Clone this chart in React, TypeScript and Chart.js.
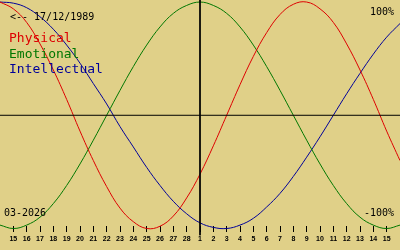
import React, { useEffect, useRef } from "react";
import { Chart, registerables } from "chart.js";

Chart.register(...registerables);

// Day labels from 14 Feb to 16 Mar 2026 (first and last are off-screen edges)
const dayLabels = [
  "14", "15", "16", "17", "18", "19", "20", "21", "22", "23", "24", "25", "26", "27", "28",
  "1", "2", "3", "4", "5", "6", "7", "8", "9", "10", "11", "12", "13", "14", "15", "16",
];

// Biorhythm values (-1 .. 1)
const physical = [
  1.0, 0.94, 0.82, 0.63, 0.4, 0.14, -0.14, -0.4, -0.63, -0.82, -0.94, -1.0, -0.98, -0.89, -0.73,
  -0.52, -0.27, 0.0, 0.27, 0.52, 0.73, 0.89, 0.98, 1.0, 0.94, 0.82, 0.63, 0.4, 0.14, -0.14, -0.4,
];
const emotional = [
  -0.97, -1.0, -0.97, -0.9, -0.78, -0.62, -0.43, -0.22, 0.0, 0.22, 0.43, 0.62, 0.78, 0.9, 0.97,
  1.0, 0.97, 0.9, 0.78, 0.62, 0.43, 0.22, 0.0, -0.22, -0.43, -0.62, -0.78, -0.9, -0.97, -1.0, -0.97,
];
const intellectual = [
  1.0, 0.99, 0.95, 0.87, 0.76, 0.62, 0.46, 0.28, 0.1, -0.1, -0.28, -0.46, -0.62, -0.76, -0.87,
  -0.95, -0.99, -1.0, -0.97, -0.91, -0.81, -0.69, -0.54, -0.37, -0.19, 0.0, 0.19, 0.37, 0.54, 0.69, 0.81,
];

const seriesNames = ["Physical", "Emotional", "Intellectual"];
const seriesColors = ["#dd0000", "#007700", "#000099"];
const birthLabel = "<-- 17/12/1989";
const monthLabel = "03-2026";
const topLabel = "100%";
const bottomLabel = "-100%";
const todayIndex = 15; // index of "1" (1 March)

const BG = "#e0d088";

export default function App() {
  const ref = useRef<HTMLCanvasElement | null>(null);

  useEffect(() => {
    const canvas = ref.current;
    if (!canvas) return;
    const xs = dayLabels.map((_, i) => i - 1);
    const toPts = (arr: number[]) => arr.map((v, i) => ({ x: xs[i], y: v }));
    const yMax = 1.018;
    const yMin = -0.978;
    const chart = new Chart(canvas, {
      type: "line",
      data: {
        datasets: [
          {
            data: [
              { x: xs[0], y: 0 },
              { x: xs[xs.length - 1], y: 0 },
            ],
            borderColor: "#000",
            borderWidth: 1,
            pointRadius: 0,
            clip: false as any,
          },
          {
            data: [
              { x: xs[todayIndex], y: yMax },
              { x: xs[todayIndex], y: -1.06 },
            ],
            borderColor: "#000",
            borderWidth: 1,
            pointRadius: 0,
            clip: false as any,
          },
          ...[physical, emotional, intellectual].map((arr, k) => ({
            label: seriesNames[k],
            data: toPts(arr),
            borderColor: seriesColors[k],
            borderWidth: 1,
            pointRadius: 0,
            tension: 0.4,
            clip: false as any,
          })),
        ],
      },
      options: {
        animation: false,
        responsive: false,
        devicePixelRatio: 1,
        events: [],
        layout: { padding: { left: 0, right: 0, top: 0, bottom: 4.4 } },
        plugins: { legend: { display: false }, tooltip: { enabled: false } },
        scales: {
          x: {
            type: "linear",
            min: xs[0],
            max: xs[xs.length - 1],
            border: { display: false },
            grid: {
              drawOnChartArea: false,
              drawTicks: true,
              tickLength: 6,
              tickColor: "#000",
              tickWidth: 1,
              color: "#000",
            },
            ticks: {
              stepSize: 1,
              autoSkip: false,
              maxRotation: 0,
              padding: 2,
              color: "#000",
              font: { family: "Liberation Sans", size: 7, weight: "bold", lineHeight: 1.37 },
              callback: (v: any) => {
                const i = Math.round(Number(v)) + 1;
                if (i <= 0 || i >= dayLabels.length - 1) return null;
                return dayLabels[i];
              },
            },
          },
          y: { display: false, min: yMin, max: yMax },
        },
      },
    } as any);
    return () => chart.destroy();
  }, []);

  const mono10: React.CSSProperties = {
    position: "absolute",
    fontFamily: "'DejaVu Sans Mono', monospace",
    fontSize: 10,
    lineHeight: "10px",
    color: "#000",
    whiteSpace: "pre",
  };
  const mono13: React.CSSProperties = {
    position: "absolute",
    fontFamily: "'DejaVu Sans Mono', monospace",
    fontSize: 13,
    lineHeight: "13px",
    whiteSpace: "pre",
    left: 9,
  };

  return (
    <div
      style={{
        position: "fixed",
        left: 0,
        top: 0,
        width: 400,
        height: 250,
        background: BG,
        overflow: "hidden",
      }}
    >
      <canvas ref={ref} width={400} height={250} style={{ position: "absolute", left: 0, top: 0 }} />
      <div style={{ ...mono10, left: 10, top: 12 }}>{birthLabel}</div>
      <div style={{ ...mono13, top: 31, color: seriesColors[0] }}>{seriesNames[0]}</div>
      <div style={{ ...mono13, top: 47, color: seriesColors[1] }}>{seriesNames[1]}</div>
      <div style={{ ...mono13, top: 62, color: seriesColors[2] }}>{seriesNames[2]}</div>
      <div style={{ ...mono10, right: 6, top: 7 }}>{topLabel}</div>
      <div style={{ ...mono10, right: 6, top: 208 }}>{bottomLabel}</div>
      <div style={{ ...mono10, left: 4, top: 208 }}>{monthLabel}</div>
    </div>
  );
}
